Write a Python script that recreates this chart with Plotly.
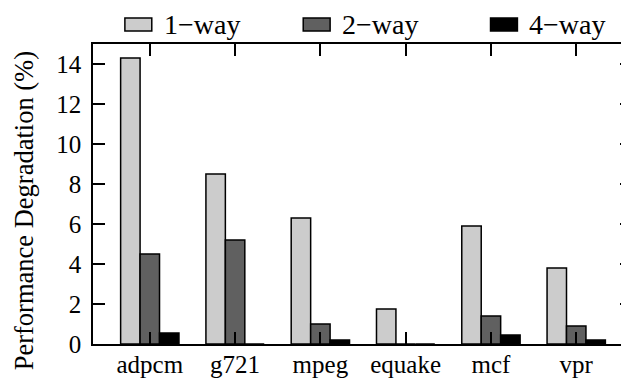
import plotly.graph_objects as go

# ---- data ----
categories = ["adpcm", "g721", "mpeg", "equake", "mcf", "vpr"]
series_names = ["1\u2212way", "2\u2212way", "4\u2212way"]
one_way = [14.3, 8.5, 6.3, 1.75, 5.9, 3.8]
two_way = [4.5, 5.2, 1.0, 0.0, 1.4, 0.9]
four_way = [0.55, 0.0, 0.2, 0.0, 0.45, 0.2]
y_ticks = [0, 2, 4, 6, 8, 10, 12, 14]
y_title = "Performance Degradation (%)"

colors = ["#cccccc", "#606060", "#000000"]
FONT = "Liberation Serif, Times New Roman, serif"

# the page puts the figure 8px in from the top-left corner
OFF = 8
W, H = 629, 381
# plot frame in page pixels: left 93, top 44, bottom 344, right 634 (beyond view)
ML, MT = 93 - OFF, 44 - OFF
MB = H - (344 - OFF)
MR = W - (634 - OFF)
PW, PH = W - ML - MR, H - MT - MB

fig = go.Figure()
for name, vals, col in zip(series_names, [one_way, two_way, four_way], colors):
    fig.add_trace(go.Bar(
        x=categories, y=vals, name=name,
        marker=dict(color=col, line=dict(color="black", width=1.5)),
        showlegend=False,
    ))


def px_x(px):
    return (px - OFF - ML) / PW


def px_y(py):
    return (H - MB - (py - OFF)) / PH


shapes = []
annotations = []

# ---- manual legend (wide boxes as in the original) ----
legend_box_left = [125, 304, 492]
box_w, box_h, box_top = 27, 13, 18
text_gap = 11
for name, col, bx in zip(series_names, colors, legend_box_left):
    shapes.append(dict(
        type="rect", xref="paper", yref="paper",
        x0=px_x(bx), x1=px_x(bx + box_w),
        y0=px_y(box_top + box_h), y1=px_y(box_top),
        fillcolor=col, line=dict(color="black", width=1.5),
    ))
    annotations.append(dict(
        xref="paper", yref="paper",
        x=px_x(bx + box_w + text_gap), y=px_y(OFF),
        xanchor="left", yanchor="top", showarrow=False, borderpad=0,
        text=name, font=dict(family=FONT, size=28, color="black"),
    ))

annotations.append(dict(
    xref="paper", yref="paper",
    x=px_x(OFF), y=px_y(211),
    xanchor="left", yanchor="middle", showarrow=False, textangle=-90,
    borderpad=0,
    text=y_title, font=dict(family=FONT, size=26.5, color="black"),
))

# x range: category centres 85.6px apart, first centre 57px right of the frame
x_range = [-0.666, 5.654]

fig.update_layout(
    width=W, height=H,
    margin=dict(l=ML, r=MR, t=MT, b=MB, pad=0),
    paper_bgcolor="white", plot_bgcolor="white",
    barmode="group", bargap=0.316, bargroupgap=0,
    font=dict(family=FONT, size=25, color="black"),
    xaxis=dict(
        type="category", range=x_range,
        tickvals=categories, ticktext=categories,
        ticks="inside", ticklen=12, tickwidth=1.5, tickcolor="black",
        showline=True, linecolor="black", linewidth=1.5, mirror="ticks",
        showgrid=False, zeroline=False,
        tickfont=dict(family=FONT, size=25, color="black"),
        ticklabelstandoff=-3,
    ),
    yaxis=dict(
        range=[0, 15], tickvals=y_ticks,
        ticks="inside", ticklen=12, tickwidth=1.5, tickcolor="black",
        showline=True, linecolor="black", linewidth=1.5, mirror="ticks",
        showgrid=False, zeroline=False,
        tickfont=dict(family=FONT, size=25, color="black"),
        ticklabelstandoff=5,
    ),
    shapes=shapes,
    annotations=annotations,
)

fig.write_html("out.html")
